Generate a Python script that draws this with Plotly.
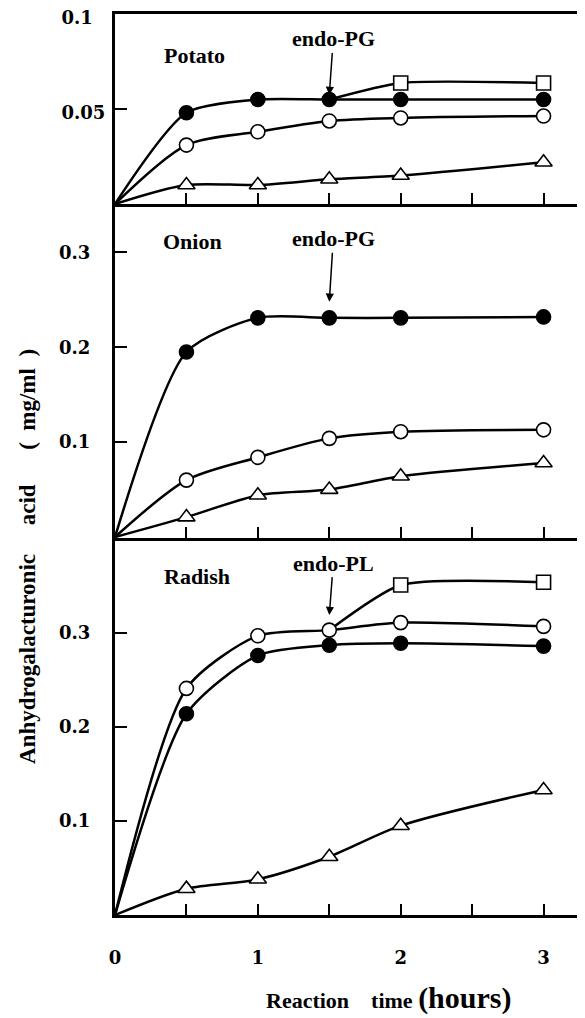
import plotly.graph_objects as go

# ---------------- data ----------------
hours = [0, 0.5, 1, 1.5, 2, 3]
sq_hours = [1.5, 2, 3]

potato_filled = [0, 0.048, 0.055, 0.055, 0.055, 0.055]
potato_open = [0, 0.031, 0.038, 0.0437, 0.0453, 0.0463]
potato_tri = [0, 0.010, 0.010, 0.013, 0.015, 0.022]
potato_sq = [0.055, 0.0637, 0.0637]

onion_filled = [0, 0.195, 0.231, 0.231, 0.231, 0.232]
onion_open = [0, 0.060, 0.084, 0.104, 0.111, 0.113]
onion_tri = [0, 0.021, 0.044, 0.050, 0.064, 0.078]

radish_filled = [0, 0.214, 0.276, 0.287, 0.289, 0.286]
radish_open = [0, 0.241, 0.297, 0.303, 0.311, 0.307]
radish_tri = [0, 0.028, 0.038, 0.062, 0.095, 0.133]
radish_sq = [0.303, 0.351, 0.354]

panel_names = ["Potato", "Onion", "Radish"]
enzyme_names = ["endo-PG", "endo-PG", "endo-PL"]
x_tickvals = [0, 0.5, 1, 1.5, 2, 2.5, 3]
x_ticktext = ["0", "", "1", "", "2", "", "3"]

# ---------------- styling ----------------
SERIF = "Liberation Serif"
TICKFONT = dict(family="DejaVu Serif", size=18, color="black")
LW = 2.5
OFF = 8                      # page body margin of the html page
W, H = 585 - OFF, 1018 - OFF
T, B, L = 14 - OFF, 103, 115 - OFF
PH = H - T - B
d_bot = [0, 377 / PH]
d_mid = [377 / PH, 711 / PH]
d_top = [711 / PH, 1]


def px_x(page_x):
    return (page_x - OFF - L) / (W - L)


def px_y(page_y):
    return (H - B - (page_y - OFF)) / PH


fig = go.Figure()


def add_series(x, y, xa, ya, symbol, fill, size=14, smooth=0.8):
    sizes = [size] * len(x)
    sizes[0] = 0
    fig.add_trace(go.Scatter(
        x=x, y=y, xaxis=xa, yaxis=ya, mode="lines+markers",
        line=dict(color="black", width=LW, shape="spline", smoothing=smooth),
        marker=dict(symbol=symbol, size=sizes, color=fill, opacity=1,
                    line=dict(color="black", width=1.6)),
        showlegend=False, hoverinfo="x+y", cliponaxis=False))


# top: potato
add_series(sq_hours, potato_sq, "x", "y", "square", "white", smooth=0.6)
add_series(hours, potato_tri, "x", "y", "triangle-up", "white", size=15)
add_series(hours, potato_open, "x", "y", "circle", "white")
add_series(hours, potato_filled, "x", "y", "circle", "black", smooth=0.7)
# middle: onion
add_series(hours, onion_tri, "x2", "y2", "triangle-up", "white", size=15)
add_series(hours, onion_open, "x2", "y2", "circle", "white")
add_series(hours, onion_filled, "x2", "y2", "circle", "black", smooth=0.7)
# bottom: radish
add_series(sq_hours, radish_sq, "x3", "y3", "square", "white", smooth=0.6)
add_series(hours, radish_tri, "x3", "y3", "triangle-up", "white", size=15)
add_series(hours, radish_filled, "x3", "y3", "circle", "black", smooth=0.7)
add_series(hours, radish_open, "x3", "y3", "circle", "white", smooth=0.7)

xcommon = dict(range=[0, 3.29], showline=True, linewidth=3, linecolor="black",
               ticks="inside", ticklen=11, tickwidth=1.5, tickcolor="black",
               tickvals=x_tickvals, showgrid=False, zeroline=False,
               fixedrange=True, automargin=False)
ycommon = dict(showline=True, linewidth=3, linecolor="black",
               ticks="inside", ticklen=12, tickwidth=1.5, tickcolor="black",
               showgrid=False, zeroline=False, tickfont=TICKFONT,
               ticklabelstandoff=18, fixedrange=True, automargin=False)


def bold(lst):
    return [f"<b>{t}</b>" if t else "" for t in lst]


fig.update_layout(
    width=W, height=H,
    margin=dict(l=L, r=0, t=T, b=B, pad=0, autoexpand=False),
    paper_bgcolor="white", plot_bgcolor="white",
    showlegend=False,
    xaxis=dict(xcommon, anchor="y", mirror=True, showticklabels=False),
    xaxis2=dict(xcommon, anchor="y2", matches="x", showticklabels=False),
    xaxis3=dict(xcommon, anchor="y3", matches="x", showticklabels=True,
                ticktext=bold(x_ticktext), tickfont=TICKFONT,
                ticklabelstandoff=24),
    yaxis=dict(ycommon, domain=d_top, anchor="x", range=[0, 0.1],
               tickvals=[0.05, 0.1], ticktext=bold(["0.05", "0.1\u2007"]),
               ticklabelstandoff=3, ticklabeloverflow="allow",
               ticklabelshift=4),
    yaxis2=dict(ycommon, domain=d_mid, anchor="x2", range=[-0.001, 0.351],
                tickvals=[0.1, 0.2, 0.3], ticktext=bold(["0.1", "0.2", "0.3"])),
    yaxis3=dict(ycommon, domain=d_bot, anchor="x3", range=[0, 0.401],
                tickvals=[0.1, 0.2, 0.3], ticktext=bold(["0.1", "0.2", "0.3"])),
)

LABFONT = dict(family=SERIF, size=22, color="black")

# panel names
name_pos = [("x", "y", 0.33, 0.0784), ("x2", "y2", 0.32, 0.311), ("x3", "y3", 0.33, 0.36)]
for (xa, ya, xv, yv), nm in zip(name_pos, panel_names):
    fig.add_annotation(x=xv, y=yv, xref=xa, yref=ya, text=f"<b>{nm}</b>",
                       showarrow=False, xanchor="left", yanchor="middle",
                       font=LABFONT)

# enzyme arrows
arrow_pos = [("x", "y", 1.5, 0.0574, -56), ("x2", "y2", 1.5, 0.248, -63),
             ("x3", "y3", 1.5, 0.319, -52)]
for (xa, ya, xv, yv, ay), nm in zip(arrow_pos, enzyme_names):
    fig.add_annotation(x=xv, y=yv, xref=xa, yref=ya, text=f"<b>{nm}</b>",
                       showarrow=True, arrowhead=2, arrowsize=1.1,
                       arrowwidth=1.5, arrowcolor="black", ax=4, ay=ay,
                       standoff=0, font=LABFONT)

# axis titles
NB = "\u00a0"
fig.add_annotation(
    x=px_x(27), y=px_y(557), xref="paper", yref="paper",
    text=f"<b>Anhydrogalacturonic{NB*5}acid{NB*6}({NB*2}mg/ml{NB*2})</b>",
    textangle=-90, showarrow=False, xanchor="center", yanchor="middle",
    font=dict(family=SERIF, size=23, color="black"))

fig.add_annotation(
    x=px_x(388), y=px_y(998), xref="paper", yref="paper",
    text=f"<b>Reaction{NB*4}time{NB}<span style='font-size:30px'>(hours)</span></b>",
    showarrow=False, xanchor="center", yanchor="middle",
    font=dict(family=SERIF, size=22, color="black"))

fig.write_html("out.html")
